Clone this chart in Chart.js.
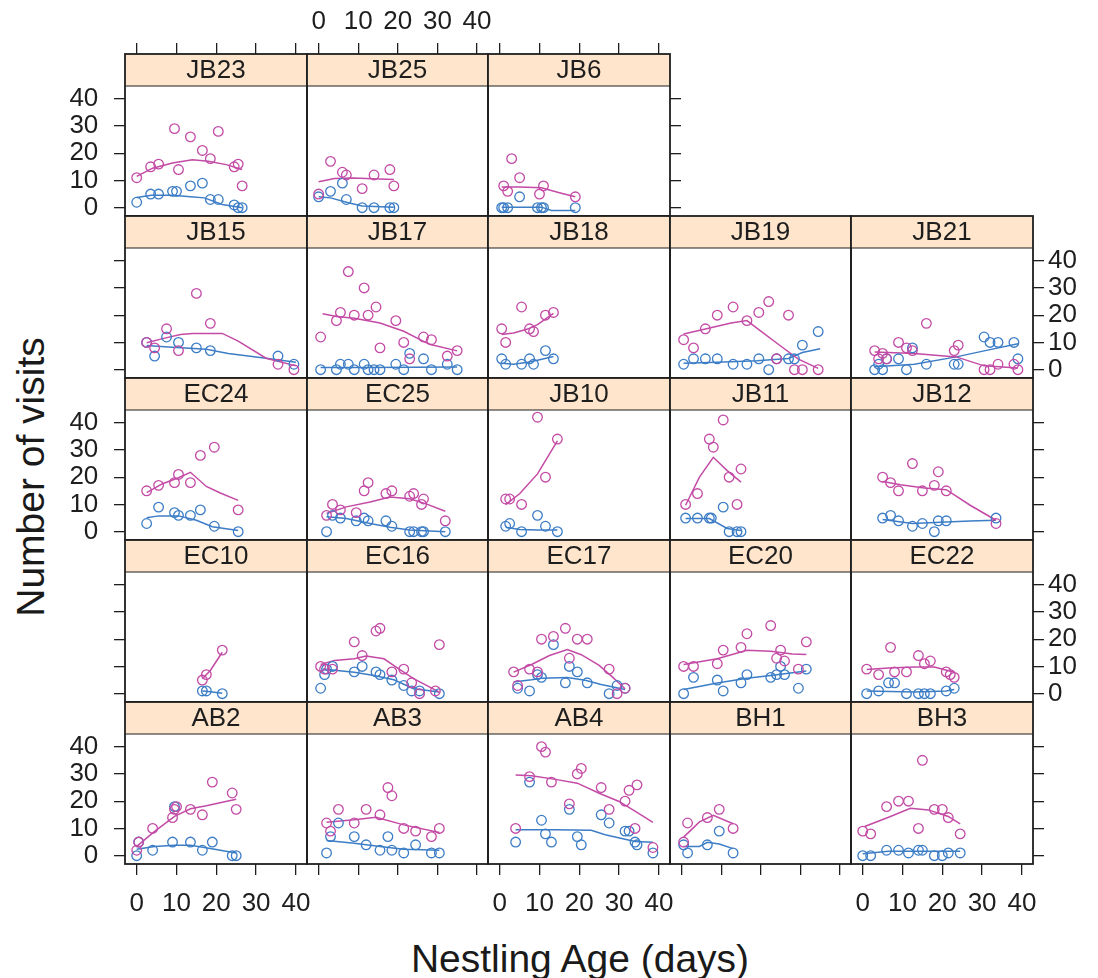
<!DOCTYPE html>
<html><head><meta charset="utf-8">
<script src="https://cdn.jsdelivr.net/npm/chart.js@4.4.1/dist/chart.umd.min.js"></script>
<style>
html,body{margin:0;padding:0;background:#fff;}
#wrap{position:relative;width:1098px;height:978px;overflow:hidden;background:#fff;}
#wrap canvas{position:absolute;}
.t{position:absolute;font-family:"Liberation Sans",Arial,sans-serif;color:#1a1a1a;white-space:nowrap;line-height:1;}
</style></head><body><div id="wrap">
<div class="t" style="font-size:39px;left:30px;top:477px;transform:translate(-50%,-50%) rotate(-90deg);">Number of visits</div>
<div class="t" style="font-size:39px;left:580px;top:958px;transform:translate(-50%,-50%);">Nestling Age (days)</div>
</div>
<script>
// ---------- tick labels / layout of panels ----------
const xTickValues = [0, 10, 20, 30, 40];
const yTickValues = [0, 10, 20, 30, 40];
const panelRows = [
  ['JB23', 'JB25', 'JB6'],
  ['JB15', 'JB17', 'JB18', 'JB19', 'JB21'],
  ['EC24', 'EC25', 'JB10', 'JB11', 'JB12'],
  ['EC10', 'EC16', 'EC17', 'EC20', 'EC22'],
  ['AB2', 'AB3', 'AB4', 'BH1', 'BH3']
];

// ---------- data: [age (days), visits] ; pink and blue parents + smooth fits ----------
const JB23_pink = [[0,11],[3.5,15],[5.5,16],[9.5,29],[10.5,14],[13.5,26],[16.5,21],[18.5,18],[20.5,28],[24.5,15],[25.5,16],[26.5,8]];
const JB23_blue = [[0,2],[3.5,5],[5.5,5],[9,6],[10,6],[13.5,8],[16.5,9],[18.5,3],[20.5,3],[24.5,1],[25.5,0],[26.5,0]];
const JB23_pinkFit = [[0,11.5],[4,14.5],[9,16.4],[14,17.6],[18,17],[22.5,15.8],[26.5,14]];
const JB23_blueFit = [[0,3.7],[3.7,4.6],[9,4.6],[13.5,4],[17,3.6],[21.5,1.2],[26.5,0]];

const JB25_pink = [[0,5],[3,17],[6,13],[7,12],[11,7],[14,12],[18,14],[19,8]];
const JB25_blue = [[0,4],[3,6],[6,9],[7,3],[11,0],[14,0],[18,0],[19,0]];
const JB25_pinkFit = [[0,9.5],[4,10.7],[8.5,10.9],[19,10.3]];
const JB25_blueFit = [[0,4],[3,3.6],[7.5,1.8],[11,0.6],[19,0.2]];

const JB6_pink = [[1,8],[2,6],[3,18],[5,11],[10,5],[11,8],[19,4]];
const JB6_blue = [[0.5,0],[1,0],[2,0],[5,4],[9.5,0],[10.5,0],[11,0],[19,0]];
const JB6_pinkFit = [[0.5,7.6],[5,7.6],[10.5,7.3],[15,5.5],[19,4]];
const JB6_blueFit = [[0.5,0.2],[10.5,0.2],[13,-1],[19,-1]];

const JB15_pink = [[2.5,10],[4.5,8],[7.5,15],[10.5,7],[15,28],[18.5,17],[35.5,2],[39.5,0]];
const JB15_blue = [[2.5,10],[4.5,5],[7.5,12],[10.5,10],[15,8],[18.5,7],[35.5,5],[39.5,2]];
const JB15_pinkFit = [[2.5,9.9],[6.5,11.4],[11,12.9],[14,13.3],[21.5,13.3],[25.5,10.5],[32.5,4.2],[40,1.4]];
const JB15_blueFit = [[2.5,8.9],[8,8.3],[17.5,7.5],[23,5.9],[32.5,4.2],[40,2.7]];

const JB17_pink = [[0.5,12],[4.5,18],[5.5,21],[7.5,36],[9,20],[11.5,30],[12.5,20],[14.5,23],[15.5,8],[19.5,18],[21.5,10],[23,4],[26.5,12],[28.5,11],[32.5,5],[35,7]];
const JB17_blue = [[0.5,0],[4.5,0],[5.5,2],[7.5,2],[9,0],[11.5,2],[12.5,0],[14,0],[15.5,0],[19.5,2],[21.5,0],[23,6],[26.5,4],[28.5,0],[32.5,2],[35,0]];
const JB17_pinkFit = [[1,20.5],[4.5,19.5],[9,18.9],[15.5,17.1],[21.5,14.1],[28,9.3],[35,6.9]];
const JB17_blueFit = [[0.5,0.8],[12,0.8],[24,0.9],[35,1]];

const JB18_pink = [[0.5,15],[1.5,10],[5.5,23],[7.5,15],[8.5,14],[11.5,20],[13.5,21]];
const JB18_blue = [[0.5,4],[1.5,2],[5.5,2],[7.5,4],[8.5,2],[11.5,7],[13.5,4]];
const JB18_pinkFit = [[0.5,12.9],[3.5,13.5],[7,14.9],[9.5,16.5],[13.5,20.7]];
const JB18_blueFit = [[0.5,2.4],[3.5,2],[7,2.7],[9.5,3.5],[13.5,4.8]];

const JB19_pink = [[0.5,11],[3,8],[6,15],[9,20],[13,23],[16.5,18],[19.5,21],[22,25],[24,4],[27,20],[28.5,0],[30.5,0],[34.5,0]];
const JB19_blue = [[0.5,2],[3,4],[6,4],[9,4],[13,2],[16.5,2],[19.5,4],[22,0],[24,4],[27,4],[28.5,4],[30.5,9],[34.5,14]];
const JB19_pinkFit = [[0.5,13.1],[6,14.9],[12.5,17.1],[16.5,18],[19.5,14.7],[25,8.7],[29.5,3.9],[34.5,0.5]];
const JB19_blueFit = [[0.5,2.4],[9,2.7],[19,3.3],[27,4.1],[30.5,6.3],[35,7.7]];

const JB21_pink = [[3,7],[4,4],[5,6],[6,4],[9,10],[11,8],[12.5,7],[16,17],[23,7],[24,9],[30.5,0],[32,0],[34,2],[38,2],[39,0]];
const JB21_blue = [[3,0],[4,2],[5,0],[6,4],[9,4],[11,0],[12.5,8],[16,2],[23,2],[24,2],[30.5,12],[32,10],[34,10],[38,10],[39,4]];
const JB21_pinkFit = [[3,6.5],[13,5.9],[23.5,4.7],[30.5,1.4],[39,0.6]];
const JB21_blueFit = [[3,1.1],[13,2],[23.5,4.7],[30.5,6.9],[39,9.5]];

const EC24_pink = [[2.5,15],[5.5,17],[9.5,18],[10.5,21],[13.5,18],[16,28],[19.5,31],[25.5,8]];
const EC24_blue = [[2.5,3],[5.5,9],[9.5,7],[10.5,6],[13.5,6],[16,8],[19.5,2],[25.5,0]];
const EC24_pinkFit = [[2.5,14.3],[6.5,17.6],[10.5,19.8],[13.5,21.8],[17.5,16.6],[21,14.2],[25.5,11.5]];
const EC24_blueFit = [[2.5,5.1],[5.5,5.8],[10.5,5.8],[15,4.2],[19,1.8],[25.5,0.4]];

const EC25_pink = [[2,6],[3.5,10],[5.5,8],[9.5,7],[11.5,15],[12.5,18],[17,14],[18.5,15],[23,13],[24,14],[26,10],[26.5,12],[32,4]];
const EC25_blue = [[2,0],[3.5,6],[5.5,5],[9.5,4],[11.5,5],[12.5,4],[17,4],[18.5,2],[23,0],[24,0],[26,0],[26.5,0],[32,0]];
const EC25_pinkFit = [[2,6.7],[7,9.1],[13,10.9],[18,12.7],[23,12.1],[27,10.3],[32,7.5]];
const EC25_blueFit = [[2,5.5],[7,4.8],[13,3],[18,1.6],[23,0.6],[32,0]];

const JB10_pink = [[1.5,12],[2.5,12],[5.5,10],[9.5,42],[11.5,20],[14.5,34]];
const JB10_blue = [[1.5,2],[2.5,3],[5.5,0],[9.5,6],[11.5,2],[14.5,0]];
const JB10_pinkFit = [[1.5,9.9],[5,13.9],[9.5,21.2],[14.5,33.3]];
const JB10_blueFit = [[1.5,1.6],[5,0.8],[9.5,0.6],[14.5,0.6]];

const JB11_pink = [[1,10],[4,14],[7,34],[8,31],[10.5,41],[12,20],[14,10],[15,23]];
const JB11_blue = [[1,5],[4,5],[7,5],[7.5,5],[10.5,9],[12,0],[14,0],[15,0]];
const JB11_pinkFit = [[1,9.7],[4.5,20],[8,27.3],[11.5,22.4],[15,18.2]];
const JB11_blueFit = [[1,4.8],[7,4.8],[11.5,1.2],[15,0.4]];

const JB12_pink = [[5,20],[7,18],[9,15],[12.5,25],[15,15],[18,17],[19,22],[21,15],[33.5,3]];
const JB12_blue = [[5,5],[7,6],[9,4],[12.5,2],[15,3],[18,0],[19,4],[21,4],[33.5,5]];
const JB12_pinkFit = [[5,18.4],[9.5,17.2],[15.5,16],[21,15.4],[27,9.7],[33.5,4.2]];
const JB12_blueFit = [[5,4.5],[12.5,3],[21,3.6],[27,3.9],[33.5,4.2]];

const EC10_pink = [[16.5,5],[17.5,7],[21.5,16]];
const EC10_blue = [[16.5,1],[17.5,1],[21.5,0]];
const EC10_pinkFit = [[16.5,5.5],[18.5,8.5],[21.5,15.2]];
const EC10_blueFit = [[16.5,1],[17.5,0.9],[21.5,0.2]];

const EC16_pink = [[0.5,10],[1.5,9],[3.5,9],[9,19],[11,14],[14.5,23],[15.5,24],[18.5,8],[21.5,9],[23.5,4],[25.5,0],[29.5,1],[30.5,18]];
const EC16_blue = [[0.5,2],[1.5,7],[2,9],[3.5,10],[9,8],[11,10],[14.5,8],[15.5,7],[18.5,5],[21.5,3],[23.5,1],[25.5,1],[30.5,0]];
const EC16_pinkFit = [[0.5,10.7],[4,12.2],[9,12.8],[12,13.8],[16.5,12.8],[19.5,9.8],[24,5.5],[30.5,0.6]];
const EC16_blueFit = [[1,9.1],[9,7.9],[14,6.7],[19,5.1],[24,1.8],[30.5,0.6]];

const EC17_pink = [[3.5,8],[4.5,3],[7.5,9],[9.5,8],[10.5,20],[13.5,21],[16.5,24],[17.5,13],[19.5,20],[22,20],[27.5,9],[29.5,0],[31.5,2]];
const EC17_blue = [[4.5,2],[7.5,1],[9.5,7],[10.5,6],[13.5,18],[16.5,4],[17.5,10],[19.5,8],[22,4],[27.5,0],[29.5,3],[31.5,2]];
const EC17_pinkFit = [[3.5,7.9],[8,10.7],[12.5,14],[17,16.2],[20.5,14.3],[25,10.4],[28.5,5.9],[31.5,1.8]];
const EC17_blueFit = [[3.5,4.3],[8,5.1],[10.5,5.7],[17,5.9],[21.5,4.9],[25.5,3.4],[31.5,1.5]];

const EC20_pink = [[0.5,10],[3,10],[9,11],[10.5,16],[15,17],[16.5,22],[22.5,25],[24,13],[25,16],[26,12],[29.5,9],[31.5,19]];
const EC20_blue = [[0.5,0],[3,6],[9,5],[10.5,1],[15,4],[16.5,7],[22.5,6],[24,7],[25,10],[26,7],[29.5,2],[31.5,9]];
const EC20_pinkFit = [[0.5,10.7],[9,12.8],[16.5,15.9],[22.5,15.6],[28,14.6],[31.5,14.4]];
const EC20_blueFit = [[0.5,1.5],[9,3.9],[16.5,5.7],[22.5,6.7],[31.5,8.3]];

const EC22_pink = [[1,9],[4,7],[7,17],[8,8],[11,8],[14,14],[15.5,11],[17,12],[21,8],[22,7],[23,6]];
const EC22_blue = [[1,0],[4,1],[6.5,4],[8,4],[11,0],[14,0],[15.5,0],[17,0],[21,1],[23,2]];
const EC22_pinkFit = [[1,8.9],[6.5,9.4],[13,9.8],[18,9.8],[23,7.9]];
const EC22_blueFit = [[1,1],[13,0.6],[21,1],[23,1.5]];

const AB2_pink = [[0,2],[0.5,5],[4,10],[9,14],[9.5,17],[10,18],[13.5,17],[16.5,15],[19,27],[24,23],[25,17]];
const AB2_blue = [[0,0],[0.5,5],[4,2],[9,5],[9.5,18],[13.5,5],[16.5,2],[19,5],[24,0],[25,0]];
const AB2_pinkFit = [[0,3.4],[4.5,8.9],[9.5,14.4],[13.5,17.2],[17.5,18.3],[25,20.7]];
const AB2_blueFit = [[0,2.4],[4.5,3.4],[9.5,3.8],[13.5,3.8],[18.5,2.6],[25,1]];

const AB3_pink = [[2,12],[3,9],[5,17],[9,12],[12,17],[15.5,15],[17.5,25],[18.5,22],[21.5,10],[24.5,9],[28.5,7],[30.5,10]];
const AB3_blue = [[2,1],[3,7],[5,12],[9,7],[12,4],[15.5,2],[17.5,7],[18.5,2],[21.5,1],[24.5,4],[28.5,1],[30.5,1]];
const AB3_pinkFit = [[2,12.3],[9,13.2],[14.5,14.1],[21.5,11.3],[30.5,8.5]];
const AB3_blueFit = [[2,5.6],[9,4.6],[15.5,3.4],[21.5,2.4],[30.5,2]];

const AB4_pink = [[4,10],[7.5,29],[10.5,40],[11.5,38],[13,27],[17.5,19],[19.5,30],[20.5,32],[25.5,25],[27.5,17],[31.5,20],[32.5,24],[34,10],[34.5,26],[38.5,3]];
const AB4_blue = [[4,5],[7.5,27],[10.5,13],[11.5,8],[13,5],[17.5,17],[19.5,7],[20.5,4],[25.5,15],[27.5,12],[31.5,9],[32.5,9],[34,5],[34.5,4],[38.5,1]];
const AB4_pinkFit = [[4,29.6],[8,29.3],[14,28],[19.5,26.6],[25,22.9],[30,19.9],[34.5,15.9],[38.5,12.2]];
const AB4_blueFit = [[4,9.5],[14,9.5],[23,9.3],[26.5,7.7],[34,5.2],[38.5,4.9]];

const BH1_pink = [[0.5,5],[1.5,12],[6.5,14],[9.5,17],[13,10]];
const BH1_blue = [[0.5,4],[1.5,1],[6.5,4],[9.5,9],[13,1]];
const BH1_pinkFit = [[0.5,6.8],[4.5,12.4],[8,14.8],[13,11.7]];
const BH1_blueFit = [[0.5,3.4],[4.5,3.4],[6.5,4.9],[9.5,4.3],[13,2.6]];

const BH3_pink = [[0,9],[2,8],[6,18],[9,20],[11.5,20],[14,10],[15,35],[18,17],[20,17],[21.5,14],[24.5,8]];
const BH3_blue = [[0,0],[2,0],[6,2],[9,2],[11.5,1],[14,2],[15,2],[18,0],[20,0],[21.5,1],[24.5,1]];
const BH3_pinkFit = [[0.5,10.7],[6.5,14.1],[12,17.4],[16.5,16.8],[21.5,14.4],[24.5,11.7]];
const BH3_blueFit = [[0,0.7],[6.5,1.6],[12,1.6],[24.5,1.6]];

// registry built from the arrays above
const panelData = {
  JB23:[JB23_pink,JB23_blue,JB23_pinkFit,JB23_blueFit], JB25:[JB25_pink,JB25_blue,JB25_pinkFit,JB25_blueFit],
  JB6:[JB6_pink,JB6_blue,JB6_pinkFit,JB6_blueFit], JB15:[JB15_pink,JB15_blue,JB15_pinkFit,JB15_blueFit],
  JB17:[JB17_pink,JB17_blue,JB17_pinkFit,JB17_blueFit], JB18:[JB18_pink,JB18_blue,JB18_pinkFit,JB18_blueFit],
  JB19:[JB19_pink,JB19_blue,JB19_pinkFit,JB19_blueFit], JB21:[JB21_pink,JB21_blue,JB21_pinkFit,JB21_blueFit],
  EC24:[EC24_pink,EC24_blue,EC24_pinkFit,EC24_blueFit], EC25:[EC25_pink,EC25_blue,EC25_pinkFit,EC25_blueFit],
  JB10:[JB10_pink,JB10_blue,JB10_pinkFit,JB10_blueFit], JB11:[JB11_pink,JB11_blue,JB11_pinkFit,JB11_blueFit],
  JB12:[JB12_pink,JB12_blue,JB12_pinkFit,JB12_blueFit], EC10:[EC10_pink,EC10_blue,EC10_pinkFit,EC10_blueFit],
  EC16:[EC16_pink,EC16_blue,EC16_pinkFit,EC16_blueFit], EC17:[EC17_pink,EC17_blue,EC17_pinkFit,EC17_blueFit],
  EC20:[EC20_pink,EC20_blue,EC20_pinkFit,EC20_blueFit], EC22:[EC22_pink,EC22_blue,EC22_pinkFit,EC22_blueFit],
  AB2:[AB2_pink,AB2_blue,AB2_pinkFit,AB2_blueFit], AB3:[AB3_pink,AB3_blue,AB3_pinkFit,AB3_blueFit],
  AB4:[AB4_pink,AB4_blue,AB4_pinkFit,AB4_blueFit], BH1:[BH1_pink,BH1_blue,BH1_pinkFit,BH1_blueFit],
  BH3:[BH3_pink,BH3_blue,BH3_pinkFit,BH3_blueFit]
};

// ---------- styling / geometry ----------
const PINK = '#c34aa5', BLUE = '#3c7dc6';
const STRIP_BG = '#ffe5cc', FRAME = '#1e1e1e', TEXT = '#1e1e1e';
const FONT = '"Liberation Sans", Arial, Helvetica, sans-serif';
const COL_LEFT = [125, 307, 488, 670, 851];
const COL_W = [182, 181, 182, 181, 182];
const ROW_TOP0 = 54, ROW_PITCH = 162, STRIP_H = 32, PLOT_H = 130;
const X_MIN = -2.94, X_MAX = 42.79;
const Y_MIN = -3.05, Y_MAX = 44.65;
const Y_MAX_EXT = Y_MAX + STRIP_H * (Y_MAX - Y_MIN) / PLOT_H;
const PAD = 3, LA = 75, RA = 62, TA = 52, BA = 62, TICK_LEN = 11;

Chart.defaults.font.family = FONT;

const panelDecor = {
  id: 'panelDecor',
  beforeDatasetsDraw(chart, args, opts) {
    const ca = chart.chartArea, ctx = chart.ctx;
    ctx.save();
    ctx.fillStyle = STRIP_BG;
    ctx.fillRect(ca.left, ca.top, ca.right - ca.left, STRIP_H);
    ctx.restore();
  },
  afterDraw(chart, args, opts) {
    const ca = chart.chartArea, ctx = chart.ctx;
    ctx.save();
    ctx.strokeStyle = FRAME;
    ctx.lineWidth = 1.1;
    ctx.beginPath();
    ctx.moveTo(ca.left, ca.top + STRIP_H); ctx.lineTo(ca.right, ca.top + STRIP_H);
    ctx.stroke();
    ctx.lineWidth = 1.8;
    ctx.strokeRect(ca.left, ca.top, ca.right - ca.left, ca.bottom - ca.top);
    ctx.fillStyle = TEXT;
    ctx.font = '26px ' + FONT;
    ctx.textAlign = 'center';
    ctx.textBaseline = 'middle';
    ctx.fillText(opts.label, (ca.left + ca.right) / 2, ca.top + STRIP_H / 2 + 1);
    ctx.restore();
  }
};

function axisCfg(pos, show, labels, size, pad, min, max, vals) {
  const vertical = (pos === 'left' || pos === 'right');
  const fitSize = show ? size : 0;
  return {
    type: 'linear', position: pos, min: min, max: max, display: show,
    afterBuildTicks(s) { s.ticks = vals.map(v => ({ value: v })); },
    afterFit(s) {
      if (vertical) s.width = fitSize; else s.height = fitSize;
      s.paddingLeft = 0; s.paddingRight = 0; s.paddingTop = 0; s.paddingBottom = 0;
    },
    grid: { drawOnChartArea: false, drawTicks: true, tickLength: TICK_LEN, color: FRAME, lineWidth: 1.3 },
    border: { display: false },
    ticks: { display: labels, padding: pad, color: TEXT, font: { family: FONT, size: 26 },
             autoSkip: false, maxRotation: 0, minRotation: 0 }
  };
}

function pts(arr) { return arr.map(p => ({ x: p[0], y: p[1] })); }

const wrap = document.getElementById('wrap');
panelRows.forEach((row, r) => {
  row.forEach((name, c) => {
    const hasLeft = c === 0, hasRight = c === row.length - 1;
    const hasTop = r === 0, hasBottom = r === panelRows.length - 1;
    const left = COL_LEFT[c] - PAD - (hasLeft ? LA : 0);
    const top = ROW_TOP0 + ROW_PITCH * r - PAD - (hasTop ? TA : 0);
    const w = COL_W[c] + 2 * PAD + (hasLeft ? LA : 0) + (hasRight ? RA : 0);
    const h = STRIP_H + PLOT_H + 2 * PAD + (hasTop ? TA : 0) + (hasBottom ? BA : 0);
    const cv = document.createElement('canvas');
    cv.width = w; cv.height = h;
    cv.style.left = left + 'px'; cv.style.top = top + 'px';
    cv.style.width = w + 'px'; cv.style.height = h + 'px';
    wrap.appendChild(cv);
    const d = panelData[name];
    new Chart(cv, {
      type: 'scatter',
      data: { datasets: [
        { data: pts(d[0]), borderColor: PINK, backgroundColor: 'rgba(0,0,0,0)', pointRadius: 4.8, pointBorderWidth: 1.3, pointStyle: 'circle', order: 1 },
        { data: pts(d[1]), borderColor: BLUE, backgroundColor: 'rgba(0,0,0,0)', pointRadius: 4.8, pointBorderWidth: 1.3, pointStyle: 'circle', order: 2 },
        { data: pts(d[2]), showLine: true, borderColor: PINK, borderWidth: 1.5, pointRadius: 0, fill: false, tension: 0, order: 3 },
        { data: pts(d[3]), showLine: true, borderColor: BLUE, borderWidth: 1.5, pointRadius: 0, fill: false, tension: 0, order: 4 }
      ]},
      options: {
        responsive: false, animation: false, devicePixelRatio: 1,
        layout: { padding: PAD, autoPadding: false },
        events: [],
        plugins: { legend: { display: false }, tooltip: { enabled: false }, panelDecor: { label: name } },
        scales: {
          x: axisCfg('bottom', hasBottom, c % 2 === 0, BA, 13, X_MIN, X_MAX, xTickValues),
          x2: axisCfg('top', hasTop, c === 1, TA, 6, X_MIN, X_MAX, xTickValues),
          y: axisCfg('left', hasLeft, r % 2 === 0, LA, 15.7, Y_MIN, Y_MAX_EXT, yTickValues),
          y2: axisCfg('right', hasRight, r % 2 === 1, RA, 4, Y_MIN, Y_MAX_EXT, yTickValues)
        }
      },
      plugins: [panelDecor]
    });
  });
});
</script>
</body></html>
